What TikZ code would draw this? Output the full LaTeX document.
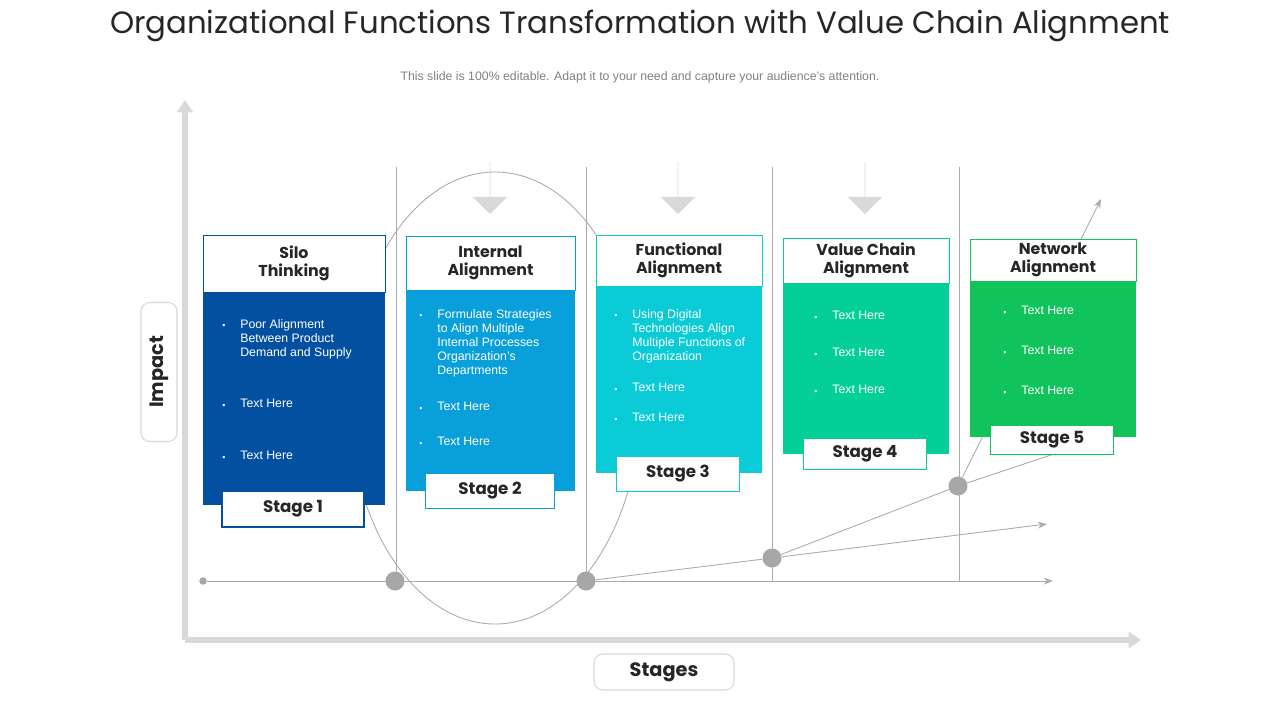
\documentclass[tikz,border=0pt]{standalone}
\usepackage{fontspec}
\setmainfont{Liberation Sans}
\newfontfamily\gothic{Poppins}
\usetikzlibrary{arrows.meta, positioning, shapes.geometric, shapes.arrows}

\definecolor{axisgray}{HTML}{D9D9D9}
\definecolor{linegray}{HTML}{ABABAB}
\definecolor{dotgray}{HTML}{A9A6A6}
\definecolor{titlegray}{HTML}{262626}
\definecolor{cOne}{HTML}{0450A0}
\definecolor{cTwo}{HTML}{089FDA}
\definecolor{cThree}{HTML}{0ACBD6}
\definecolor{cFour}{HTML}{04CF98}
\definecolor{cFive}{HTML}{10C35A}

% card: name, left, right, top, header bottom, bottom, colour, heading
\newcommand{\stagecard}[8]{
    \fill[#7] (#2,#5) rectangle (#3,#6);
    \draw[#7, fill=white] (#2,#4) rectangle (#3,#5);
    \node[head] (#1) at ({(#2+#3)/2},{(#4+#5)/2}) {#8};
}
% bullet item: x of dot, y of first line, text
\newcommand{\bitem}[3]{
    \node[bul] at (#1,#2) {•};
    \node[item] at (#1+16,#2) {#3};
}

\begin{document}
\begin{tikzpicture}[
    x=0.02cm, y=-0.02cm,
    >=Stealth,
    head/.style={align=center, font=\gothic\bfseries\fontsize{9}{10}\selectfont, text=titlegray},
    stage/.style={draw=#1, fill=white, line width=0.6pt, inner sep=0pt,
        font=\gothic\bfseries\fontsize{9.5}{11}\selectfont, text=titlegray},
    bul/.style={text=white, font=\fontsize{5}{6}\selectfont, inner sep=0pt},
    item/.style={anchor=north west, align=left, text=white, inner sep=0pt, yshift=4pt,
        font=\fontsize{7}{8}\selectfont},
    dot/.style={circle, fill=dotgray, minimum size=0.38cm, inner sep=0pt},
    guide/.style={draw=linegray, line width=0.5pt},
    axis/.style={draw=axisgray, line width=3pt, -{Triangle[length=7pt,width=9pt]}},
    tag/.style={draw=axisgray, rounded corners=5pt, fill=white, line width=0.6pt,
        font=\gothic\bfseries\fontsize{11}{12}\selectfont, text=titlegray},
    down/.style={single arrow, fill=axisgray, shape border rotate=270, minimum height=1.04cm,
        single arrow head extend=0.34cm, minimum width=0.68cm, inner sep=0pt},
]
\useasboundingbox (0,0) rectangle (1280,720);

\node[font=\gothic\fontsize{17.5}{20}\selectfont, text=titlegray] (title) at (640,26)
    {Organizational Functions Transformation with Value Chain Alignment};
\node[font=\fontsize{7}{8}\selectfont, text=gray, below=0.35cm of title] (sub)
    {This slide is 100\% editable. Adapt it to your need and capture your audience’s attention.};

% axes
\coordinate (org) at (185,640);
\coordinate (ytop) at (185,100);
\coordinate (xend) at (1141,640);
\draw[axis] (org) -- (ytop);
\draw[axis] (org) -- (xend);
\node[tag, minimum width=0.72cm, minimum height=2.78cm] (impact) at (159,372) {};
\node[rotate=90, font=\gothic\bfseries\fontsize{11}{12}\selectfont, text=titlegray] at (impact) {Impact};
\node[tag, minimum width=2.8cm, minimum height=0.72cm] (stages) at (664,672) {Stages};

% guides
\draw[guide] (495,398) ellipse [x radius=146, y radius=226];
\foreach \gx in {396,586,772,959}
    \draw[guide] (\gx,167) -- (\gx,581);
\node[circle, fill=dotgray, minimum size=0.15cm, inner sep=0pt] (d0) at (203,581) {};
\coordinate (xline) at (1053,581);
\draw[guide, ->] (d0) -- (xline);
\node[dot] (d1) at (395,581) {};
\node[dot] (d2) at (586,581) {};
\node[dot] (d3) at (772,558) {};
\node[dot] (d4) at (958,486) {};
\coordinate (e1) at (1047,524);
\coordinate (e2) at (1060,452);
\coordinate (e3) at (1101,199);
\draw[guide, ->] (d2) -- (d3) -- (e1);
\draw[guide] (d3) -- (d4) -- (e2);
\draw[guide, ->] (d4) -- (e3);

% arrows
\foreach \ax in {490,678,865}
    \node[down] at (\ax,188) {};

% cards
\stagecard{h1}{203}{385}{235}{292}{505}{cOne}{Silo\\Thinking}
\stagecard{h2}{406}{575}{236}{290}{491}{cTwo}{Internal\\Alignment}
\stagecard{h3}{596}{762}{235}{286}{473}{cThree}{Functional\\Alignment}
\stagecard{h4}{783}{949}{238}{283}{454}{cFour}{Value Chain\\Alignment}
\stagecard{h5}{970}{1136}{239}{281}{437}{cFive}{Network\\Alignment}

\node[stage=cOne, minimum width=2.84cm, minimum height=0.72cm] (s1) at (293,509) {Stage 1};
\node[stage=cTwo, minimum width=2.58cm, minimum height=0.7cm] (s2) at (490,491) {Stage 2};
\node[stage=cThree, minimum width=2.46cm, minimum height=0.7cm] (s3) at (678,474) {Stage 3};
\node[stage=cFour, minimum width=2.46cm, minimum height=0.62cm] (s4) at (865,454) {Stage 4};
\node[stage=cFive, minimum width=2.46cm, minimum height=0.58cm] (s5) at (1052,440) {Stage 5};

\bitem{224}{326}{Poor Alignment\\Between Product\\Demand and Supply}
\bitem{224}{406}{Text Here}
\bitem{224}{458}{Text Here}

\bitem{421}{316}{Formulate Strategies\\to Align Multiple\\Internal Processes\\Organization’s\\Departments}
\bitem{421}{409}{Text Here}
\bitem{421}{444}{Text Here}

\bitem{616}{316}{Using Digital\\Technologies Align\\Multiple Functions of\\Organization}
\bitem{616}{390}{Text Here}
\bitem{616}{420}{Text Here}

\bitem{816}{318}{Text Here}
\bitem{816}{355}{Text Here}
\bitem{816}{392}{Text Here}

\bitem{1005}{313}{Text Here}
\bitem{1005}{353}{Text Here}
\bitem{1005}{393}{Text Here}
\end{tikzpicture}
\end{document}
